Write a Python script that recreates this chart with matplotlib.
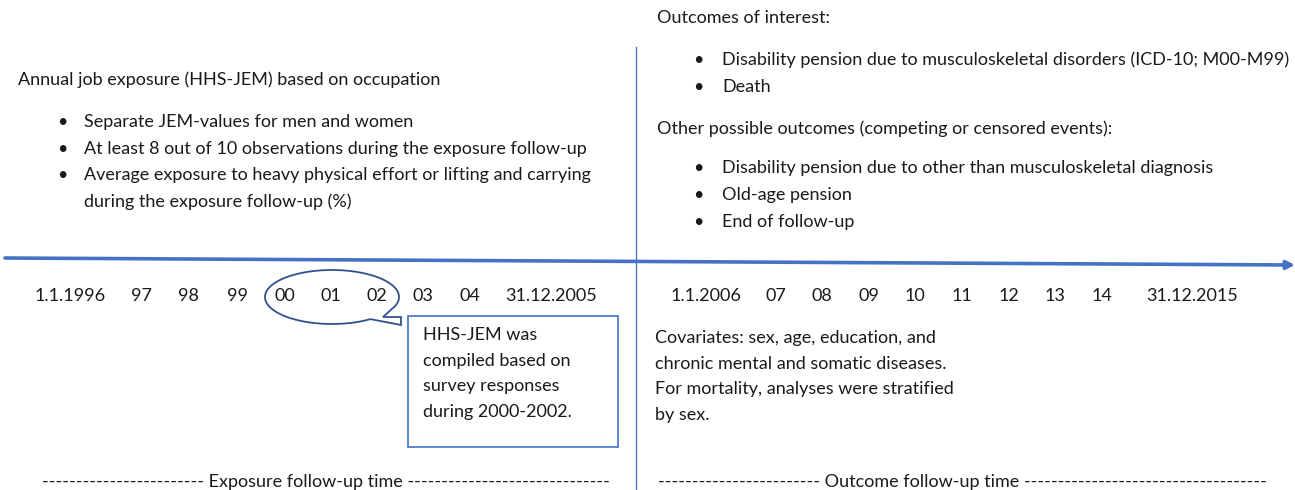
import numpy as np
import matplotlib
matplotlib.use("Agg")
import matplotlib.pyplot as plt
from matplotlib.path import Path
from matplotlib.patches import PathPatch, Rectangle

# ---- content ----
exposure_title = "Annual job exposure (HHS-JEM) based on occupation"
exposure_bullets = [
    "Separate JEM-values for men and women",
    "At least 8 out of 10 observations during the exposure follow-up",
    "Average exposure to heavy physical effort or lifting and carrying\nduring the exposure follow-up (%)",
]
outcome_title = "Outcomes of interest:"
outcome_bullets = [
    "Disability pension due to musculoskeletal disorders (ICD-10; M00-M99)",
    "Death",
]
other_title = "Other possible outcomes (competing or censored events):"
other_bullets = [
    "Disability pension due to other than musculoskeletal diagnosis",
    "Old-age pension",
    "End of follow-up",
]
exposure_years = ["1.1.1996", "97", "98", "99", "00", "01", "02", "03", "04", "31.12.2005"]
outcome_years = ["1.1.2006", "07", "08", "09", "10", "11", "12", "13", "14", "31.12.2015"]
callout_lines = ["HHS-JEM was", "compiled based on", "survey responses", "during 2000-2002."]
covariate_lines = [
    "Covariates: sex, age, education, and",
    "chronic mental and somatic diseases.",
    "For mortality, analyses were stratified",
    "by sex.",
]
exposure_footer = "-" * 24 + " Exposure follow-up time " + "-" * 30
outcome_footer = "-" * 24 + " Outcome follow-up time " + "-" * 36

# ---- layout (pixel coordinates, y down) ----
exposure_x = [70, 142, 188, 238, 285, 331, 377, 423, 470, 551]
outcome_x = [706, 776, 822, 869, 915, 962, 1009, 1055, 1102, 1192]
BLUE = "#4472C4"
DARKBLUE = "#2F528F"
TXT = "#1a1a1a"
FS = 13

plt.rcParams["font.family"] = ["Lato", "DejaVu Sans"]

fig = plt.figure(figsize=(12.95, 4.9), dpi=100)
ax = fig.add_axes([0, 0, 1, 1])
ax.set_xlim(0, 1295)
ax.set_ylim(490, 0)
ax.axis("off")


def txt(x, y, s, **kw):
    kw.setdefault("ha", "left")
    ax.text(x, y, s, va="center", fontsize=FS, color=TXT, **kw)


def bullets(items, y0, bx, tx, step=26.5):
    y = y0
    for item in items:
        ax.text(bx, y, "\u2022", ha="center", va="center", fontsize=FS, color=TXT)
        for ln in item.split("\n"):
            txt(tx, y, ln)
            y += step
    return y


# left block
txt(18, 80, exposure_title)
bullets(exposure_bullets, 122, 62, 84)

# right block
txt(657, 18, outcome_title)
bullets(outcome_bullets, 60, 698, 722, step=27)
txt(657, 129, other_title)
bullets(other_bullets, 168, 698, 722, step=27)

# timeline arrow and divider
ax.annotate("", xy=(1295, 265), xytext=(5, 258), annotation_clip=False,
            arrowprops=dict(arrowstyle="-|>", color=BLUE, lw=2.6,
                            mutation_scale=12, shrinkA=0, shrinkB=0))
ax.plot([636, 636], [47, 490], color=BLUE, lw=0.9)

for lab, x in zip(exposure_years, exposure_x):
    txt(x, 296, lab, ha="center")
for lab, x in zip(outcome_years, outcome_x):
    txt(x, 296, lab, ha="center")

# oval callout around 00-02
cx, cy, a, b = 332, 297, 67, 27
th = np.radians(np.linspace(55, 380, 200))
pts = list(zip(cx + a * np.cos(th), cy + b * np.sin(th)))
pts += [(383, 317), (401, 317), (401, 325), pts[0]]
ax.add_patch(PathPatch(Path(pts), fill=False, edgecolor=DARKBLUE, lw=1.3))

# text box
ax.add_patch(Rectangle((408, 316), 210, 131, fill=False, edgecolor=BLUE, lw=1.2))
for i, ln in enumerate(callout_lines):
    txt(423, 335 + i * 25.5, ln)

for i, ln in enumerate(covariate_lines):
    txt(655, 338 + i * 25.5, ln)

txt(42, 482, exposure_footer)
txt(658, 482, outcome_footer)

fig.savefig("out.png", dpi=100)
